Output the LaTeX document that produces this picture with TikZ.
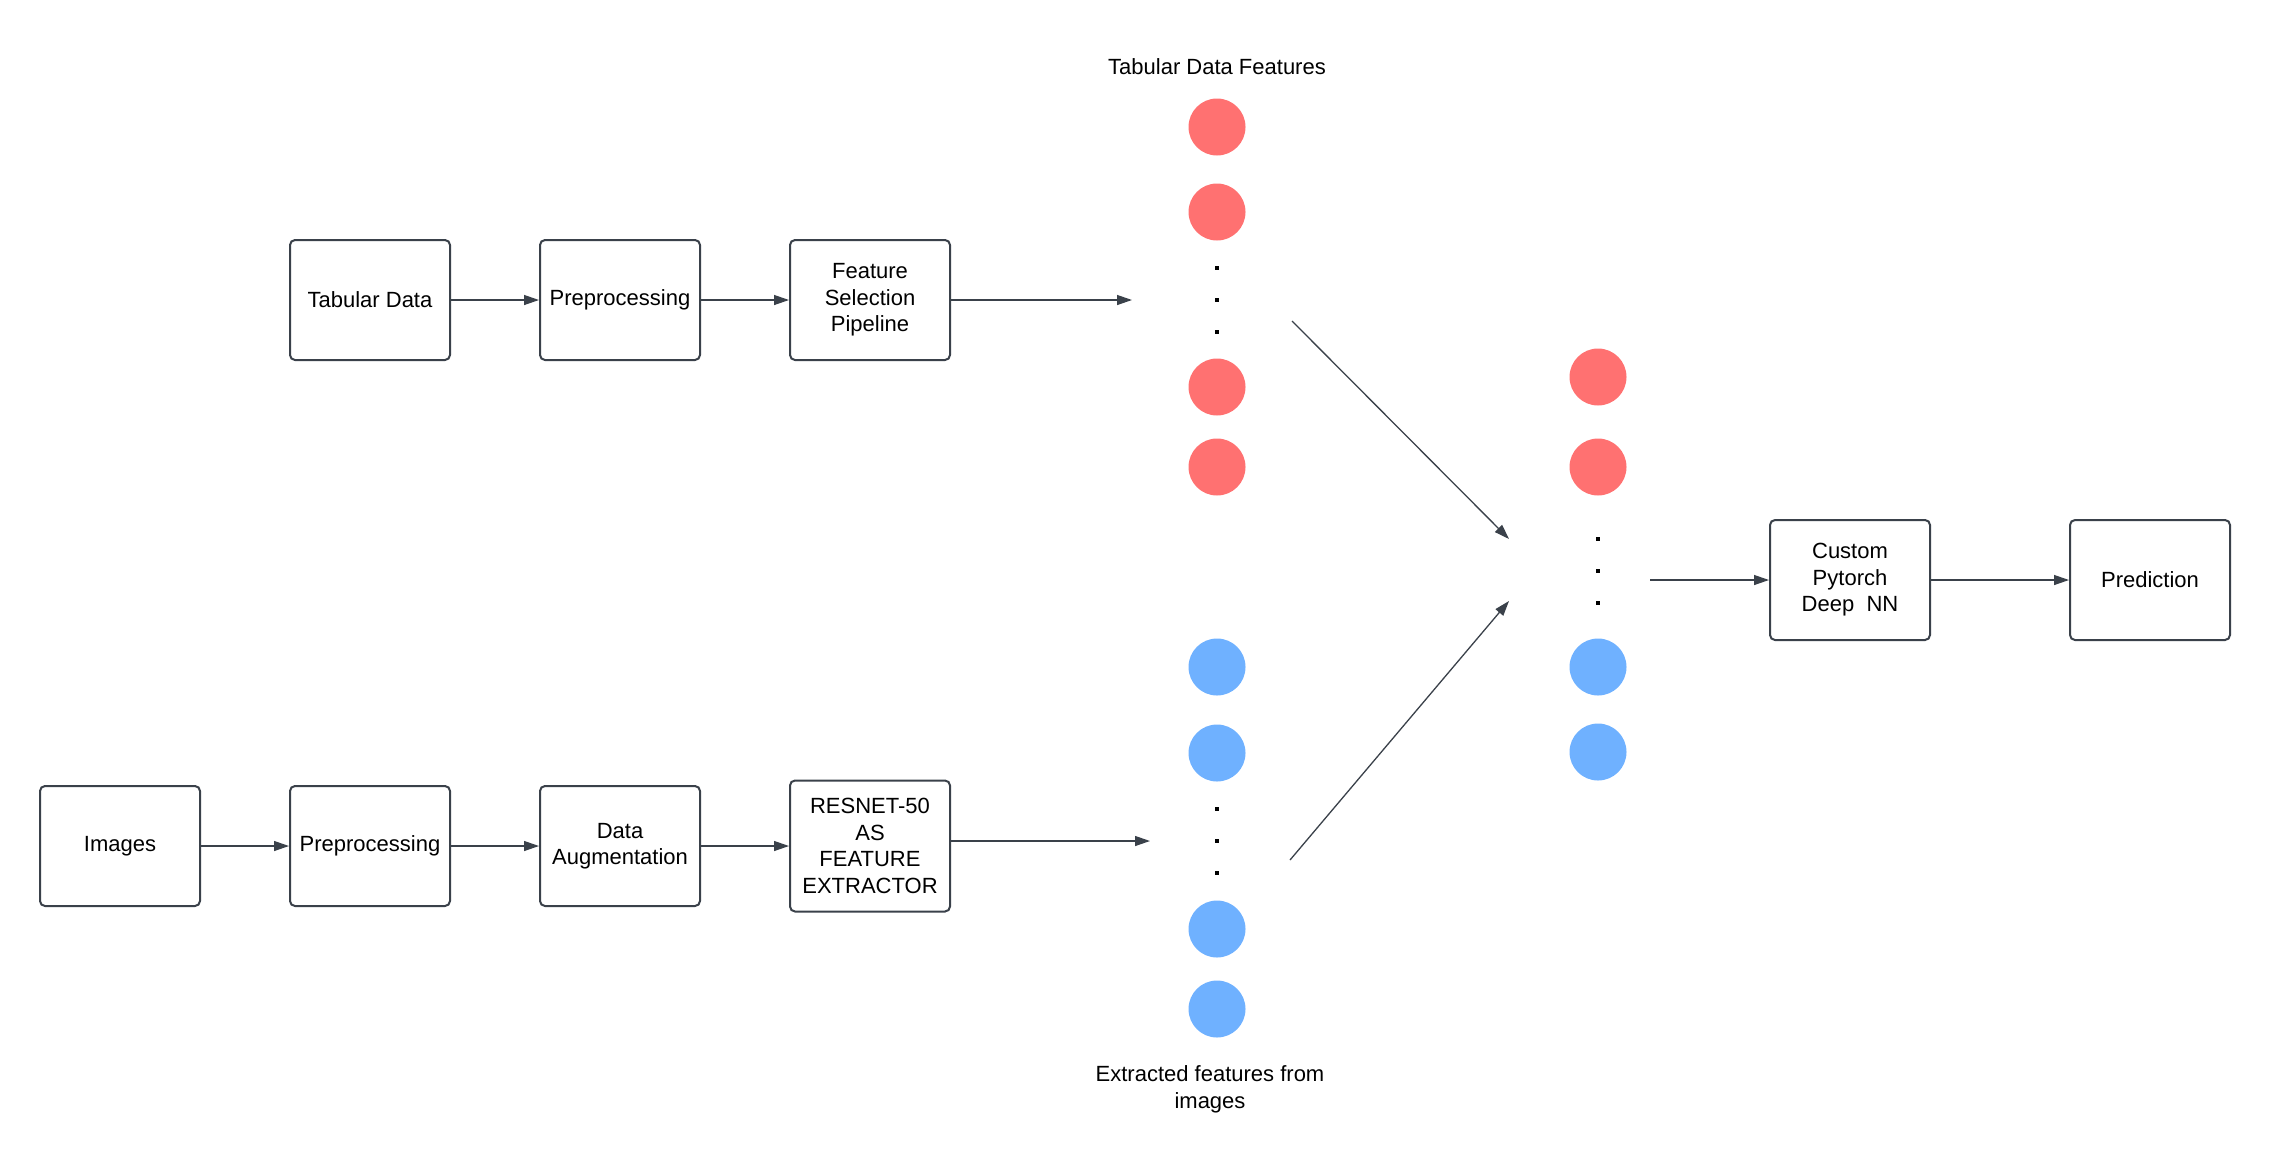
\documentclass[tikz,border=0pt]{standalone}
\usepackage{fontspec}
\setmainfont{Liberation Sans}
\usetikzlibrary{arrows.meta}
\definecolor{edgec}{HTML}{3A414A}
\definecolor{redc}{HTML}{FF7171}
\definecolor{bluec}{HTML}{6FB1FF}
\begin{document}
\begin{tikzpicture}[x=1pt,y=-1pt,
  box/.style={draw=edgec, line width=2pt, rounded corners=5pt, minimum width=160pt,
    minimum height=120pt, align=center, inner sep=0pt,
    font=\fontsize{22}{26.5}\selectfont},
  con/.style={draw=edgec, line width=1.3pt, -{Triangle[length=15pt,width=10pt]}},
  feat/.style={circle, minimum size=57pt, inner sep=0pt},
  rnode/.style={feat, fill=redc},
  bnode/.style={feat, fill=bluec},
  dotm/.style={fill=black, minimum size=4.5pt, inner sep=0pt},
  lbl/.style={align=center, font=\fontsize{22}{27}\selectfont}
]
\useasboundingbox (0,0) rectangle (2269,1160);
% top row
\node[box] (tab) at (370,300) {Tabular Data};
\node[box] (prep1) at (620,300) {Preprocessing};
\node[box] (fsp) at (870,300) {Feature\\Selection\\Pipeline};
% bottom row
\node[box] (imgs) at (120,846) {Images};
\node[box] (prep2) at (370,846) {Preprocessing};
\node[box] (aug) at (620,846) {Data\\Augmentation};
\node[box, minimum height=131pt] (res) at (870,846) {RESNET-50\\AS\\FEATURE\\EXTRACTOR};
% right boxes
\node[box] (cnn) at (1850,580) {Custom\\Pytorch\\Deep~~NN};
\node[box] (pred) at (2150,580) {Prediction};
% left column, tabular features
\node[lbl] (tlab) at (1217,67) {Tabular Data Features};
\node[rnode] (r1) at (1217,127) {};
\node[rnode] (r2) at (1217,212) {};
\node[dotm] (rd1) at (1217,268) {};
\node[dotm] (rd2) at (1217,300) {};
\node[dotm] (rd3) at (1217,332) {};
\node[rnode] (r3) at (1217,387) {};
\node[rnode] (r4) at (1217,467) {};
% left column, image features
\node[bnode] (b1) at (1217,667) {};
\node[bnode] (b2) at (1217,753) {};
\node[dotm] (bd1) at (1217,809) {};
\node[dotm] (bd2) at (1217,841) {};
\node[dotm] (bd3) at (1217,873) {};
\node[bnode] (b3) at (1217,929) {};
\node[bnode] (b4) at (1217,1009) {};
\node[lbl] (blab) at (1210,1089) {Extracted features from\\images};
% right column, combined
\node[rnode] (c1) at (1598,377) {};
\node[rnode] (c2) at (1598,467) {};
\node[dotm] (cd1) at (1598,539) {};
\node[dotm] (cd2) at (1598,571) {};
\node[dotm] (cd3) at (1598,603) {};
\node[bnode] (c3) at (1598,667) {};
\node[bnode] (c4) at (1598,752) {};
% free ends
\coordinate (tin) at (1132,300);
\coordinate (bin) at (1150,841);
\coordinate (ua) at (1292,321);
\coordinate (ub) at (1509,539);
\coordinate (la) at (1290,860);
\coordinate (lb) at (1509,601);
\coordinate (cout) at (1650,580);
% connectors
\draw[con] (tab) -- (prep1);
\draw[con] (prep1) -- (fsp);
\draw[con] (fsp) -- (tin);
\draw[con] (imgs) -- (prep2);
\draw[con] (prep2) -- (aug);
\draw[con] (aug) -- (res);
\draw[con] (res.east |- bin) -- (bin);
\draw[con] (ua) -- (ub);
\draw[con] (la) -- (lb);
\draw[con] (cout) -- (cnn);
\draw[con] (cnn) -- (pred);
\end{tikzpicture}
\end{document}
